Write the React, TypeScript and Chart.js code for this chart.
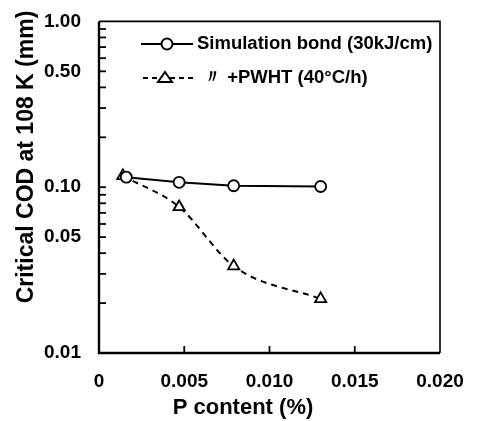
import React, { useEffect, useRef } from "react";
import { Chart, registerables } from "chart.js";
Chart.register(...registerables);

const simX = [0.0016, 0.0047, 0.0079, 0.013];
const simY = [0.115, 0.107, 0.102, 0.101];
const pwhtX = [0.0014, 0.0047, 0.0079, 0.013];
const pwhtY = [0.117, 0.076, 0.0334, 0.0212];
const seriesNames = ["Simulation bond (30kJ/cm)", "〃 +PWHT (40°C/h)"];
const xTickValues = [0, 0.005, 0.01, 0.015, 0.02];
const xTickLabels = ["0", "0.005", "0.010", "0.015", "0.020"];
const yMinorValues = [0.01, 0.02, 0.03, 0.04, 0.05, 0.06, 0.07, 0.08, 0.09, 0.1, 0.2, 0.3, 0.4, 0.5, 0.6, 0.7, 0.8, 0.9, 1];
const yTickValues = [0.01, 0.05, 0.1, 0.5, 1];
const yTickLabels = ["0.01", "0.05", "0.10", "0.50", "1.00"];
const xTitle = "P content (%)";
const yTitle = "Critical COD at 108 K (mm)";

const FONT = "'Liberation Sans', 'DejaVu Sans', sans-serif";

const decor = {
  id: "decor",
  afterDraw(chart: any) {
    const ctx = chart.ctx;
    const { left, right, top, bottom } = chart.chartArea;
    const xs = chart.scales.x;
    const ys = chart.scales.y;
    ctx.save();
    ctx.strokeStyle = "#000";
    ctx.lineCap = "butt";
    // frame
    ctx.lineWidth = 1.6;
    ctx.beginPath();
    ctx.moveTo(left, top);
    ctx.lineTo(right, top);
    ctx.lineTo(right, bottom);
    ctx.stroke();
    ctx.lineWidth = 2.4;
    ctx.beginPath();
    ctx.moveTo(left, top);
    ctx.lineTo(left, bottom);
    ctx.lineTo(right, bottom);
    ctx.stroke();
    // inward ticks
    ctx.lineWidth = 1.8;
    yMinorValues.forEach((v) => {
      if (v === 0.01 || v === 1) return;
      const py = ys.getPixelForValue(v);
      ctx.beginPath();
      ctx.moveTo(left, py);
      ctx.lineTo(left + 7, py);
      ctx.stroke();
    });
    xTickValues.forEach((v) => {
      if (v === 0 || v === 0.02) return;
      const px = xs.getPixelForValue(v);
      ctx.beginPath();
      ctx.moveTo(px, bottom);
      ctx.lineTo(px, bottom - 7);
      ctx.stroke();
    });
    // legend
    const lx0 = 141, lx1 = 193;
    const ly1 = 44, ly2 = 78;
    ctx.lineWidth = 2;
    ctx.beginPath();
    ctx.moveTo(lx0, ly1);
    ctx.lineTo(lx1, ly1);
    ctx.stroke();
    ctx.fillStyle = "#fff";
    ctx.beginPath();
    ctx.arc(167, ly1, 5.5, 0, Math.PI * 2);
    ctx.fill();
    ctx.stroke();
    ctx.setLineDash([5, 4]);
    ctx.beginPath();
    ctx.moveTo(lx0 + 2, ly2);
    ctx.lineTo(lx1 + 2, ly2);
    ctx.stroke();
    ctx.setLineDash([]);
    ctx.beginPath();
    ctx.moveTo(165, ly2 - 6);
    ctx.lineTo(172, ly2 + 4);
    ctx.lineTo(158, ly2 + 4);
    ctx.closePath();
    ctx.fill();
    ctx.stroke();
    ctx.fillStyle = "#000";
    ctx.font = `bold 18.5px ${FONT}`;
    ctx.textBaseline = "middle";
    ctx.textAlign = "left";
    ctx.fillText(seriesNames[0], 197, ly1);
    ctx.fillText(seriesNames[1], 203, ly2);
    // axis titles
    ctx.font = `bold 22px ${FONT}`;
    ctx.textAlign = "center";
    ctx.fillText(xTitle, 243, 408);
    ctx.save();
    ctx.translate(27, 157);
    ctx.rotate(-Math.PI / 2);
    ctx.font = `bold 23px ${FONT}`;
    ctx.fillText(yTitle, 0, 0);
    ctx.restore();
    ctx.restore();
  },
};

export default function App() {
  const ref = useRef<HTMLCanvasElement>(null);
  useEffect(() => {
    document.body.style.margin = "0";
    const chart = new Chart(ref.current!, {
      type: "line",
      data: {
        datasets: [
          {
            label: seriesNames[0],
            data: simX.map((x, i) => ({ x, y: simY[i] })),
            borderColor: "#000",
            borderWidth: 2,
            pointStyle: "circle",
            pointRadius: 5.5,
            pointBorderWidth: 1.8,
            pointBackgroundColor: "#fff",
            pointBorderColor: "#000",
            tension: 0,
          },
          {
            label: seriesNames[1],
            data: pwhtX.map((x, i) => ({ x, y: pwhtY[i] })),
            borderColor: "#000",
            borderWidth: 2,
            borderDash: [6, 5],
            pointStyle: "triangle",
            pointRadius: 6.5,
            pointBorderWidth: 1.8,
            pointBackgroundColor: "#fff",
            pointBorderColor: "#000",
            cubicInterpolationMode: "monotone",
          },
        ],
      } as any,
      options: {
        responsive: false,
        animation: false,
        layout: { padding: { top: 17, right: 40, left: 0, bottom: 0 } },
        plugins: { legend: { display: false }, tooltip: { enabled: false } },
        scales: {
          x: {
            type: "linear",
            min: 0,
            max: 0.02,
            border: { display: false },
            grid: { display: false },
            afterBuildTicks: (s: any) => {
              s.ticks = xTickValues.map((v) => ({ value: v }));
            },
            afterFit: (s: any) => {
              s.height = 68;
            },
            ticks: {
              autoSkip: false,
              maxRotation: 0,
              padding: 9,
              color: "#000",
              font: { family: FONT, size: 19, weight: "bold" },
              callback: (v: any) => {
                const i = xTickValues.findIndex((t) => Math.abs(t - v) < 1e-9);
                return i >= 0 ? xTickLabels[i] : "";
              },
            },
          },
          y: {
            type: "logarithmic",
            min: 0.01,
            max: 1,
            border: { display: false },
            grid: { display: false },
            afterBuildTicks: (s: any) => {
              s.ticks = yMinorValues.map((v) => ({ value: v }));
            },
            afterFit: (s: any) => {
              s.width = 99;
            },
            ticks: {
              autoSkip: false,
              padding: 10,
              color: "#000",
              font: { family: FONT, size: 19, weight: "bold" },
              callback: (v: any) => {
                const i = yTickValues.findIndex((t) => Math.abs(t - v) < 1e-9);
                return i >= 0 ? yTickLabels[i] : "";
              },
            },
          },
        },
      } as any,
      plugins: [decor],
    });
    return () => chart.destroy();
  }, []);
  return (
    <div style={{ position: "fixed", left: 0, top: 0, width: 480, height: 421, background: "#fff" }}>
      <canvas ref={ref} width={480} height={421} />
    </div>
  );
}
